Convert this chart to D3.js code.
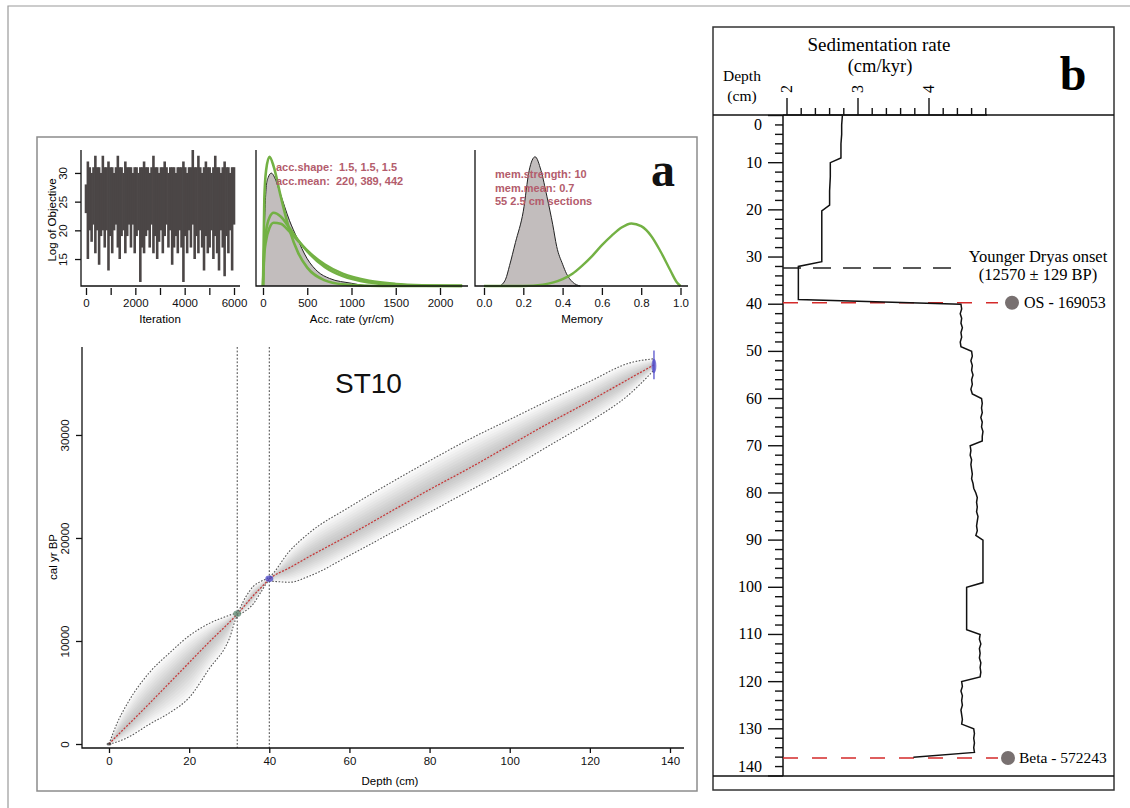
<!DOCTYPE html>
<html>
<head>
<meta charset="utf-8">
<script src="https://cdn.jsdelivr.net/npm/d3@7"></script>
<style>
  body { margin: 0; background: #fff; }
  svg { display: block; }
  .sans { font-family: "Liberation Sans", Arial, sans-serif; }
  .serif { font-family: "Liberation Serif", "Times New Roman", serif; }
</style>
</head>
<body>
<svg id="fig" width="1130" height="808"></svg>
<script>
// ---------- data ----------

// MCMC trace (log of objective), low / high per column, 0..6000 iterations
const traceLo = [23,15,20,18,21,16,20,14,19,20,17,20,13,19,16,20,21,17,15,19,20,16,19,21,17,21,16,19,20,11,17,16,19,20,17,21,16,19,15,18,
                 20,16,19,21,17,20,14,17,19,16,20,17,11,19,16,20,17,21,15,19,16,20,17,13,19,16,17,20,15,19,16,13,20,17,12,19,16,20,13,21];
const traceHi = [28,32,31,30,31,33,31,31,30,33,31,31,32,31,31,30,31,33,31,31,30,32,31,31,31,30,31,31,30,31,31,32,31,31,30,31,33,31,31,30,
                 31,31,32,31,30,31,31,31,30,31,31,31,32,31,30,31,31,34,31,31,33,31,30,31,32,31,31,30,31,33,31,31,30,31,32,31,31,30,31,31];
const traceTicks = [0, 1000, 2000, 3000, 4000, 5000, 6000];

// accumulation rate: prior curves (green) and posterior (grey)
const accX      = [0, 15, 35, 73, 120, 200, 300, 400, 500, 700, 900, 1200, 1500, 1800, 2250];
const accPrior1 = [0, .64, .85, .95, .88, .66, .41, .24, .135, .041, .012, .002, 0, 0, 0];
const accPrior2 = [0, .286, .404, .504, .539, .511, .426, .334, .254, .139, .073, .026, .009, .003, .001];
const accPrior3 = [0, .235, .335, .426, .465, .458, .400, .329, .261, .157, .090, .038, .015, .006, .002];
const accPostX  = [0, 10, 25, 40, 60, 94, 130, 190, 300, 380, 500, 620, 750, 1000, 1130, 1200];
const accPost   = [0, .3, .6, .75, .8, .83, .8, .69, .48, .36, .2, .105, .056, .02, .005, 0];
const accTicks  = [0, 500, 1000, 1500, 2000];

// memory: posterior (grey) and prior (green)
const memPostX  = [0.08, 0.11, 0.13, 0.16, 0.20, 0.23, 0.26, 0.29, 0.32, 0.35, 0.37, 0.40, 0.42, 0.45, 0.49];
const memPost   = [0, .05, .15, .32, .55, .85, .95, .85, .66, .45, .29, .16, .09, .03, 0];
const memPriorX = [0, .2, .3, .4, .45, .5, .55, .6, .65, .7, .75, .8, .85, .9, .95, .98, 1];
const memPrior  = [0, 0, .01, .05, .09, .15, .22, .30, .37, .43, .46, .44, .37, .25, .11, .03, 0];
const memTicks  = [0, 0.2, 0.4, 0.6, 0.8, 1.0];

// age-depth model ST10
const modelDepth = [0, 2, 5, 10, 15, 20, 25, 30, 32, 34, 36, 38, 40, 45, 50, 60, 70, 80, 90, 100, 110, 120, 130, 136];
const modelMean  = [0, 800, 1950, 3900, 5900, 7900, 9900, 11800, 12600, 13500, 14400, 15200, 16000, 17100, 18200, 20300, 22500, 24700, 26800, 29000, 31200, 33300, 35500, 36800];
const modelMax   = [0, 2000, 4200, 6900, 8800, 10500, 11700, 12500, 12800, 14200, 15300, 15800, 16200, 18700, 20500, 23000, 25300, 27500, 29600, 31500, 33400, 35200, 37000, 37400];
const modelMin   = [0, 200, 700, 1900, 3000, 4500, 7300, 10200, 12400, 12900, 13600, 14800, 15800, 15700, 16300, 18300, 20400, 22500, 24600, 26700, 29000, 31300, 34000, 36300];
const hiatusDepths = [32, 40];
const dateDepth = [0, 32, 40, 136];
const dateAge   = [0, 12650, 16050, 36700];
const dateErr   = [150, 300, 300, 700];
const dateColor = ['#333333', '#5f8a72', '#4a45c8', '#5550c8'];
const modelXTicks = [0, 20, 40, 60, 80, 100, 120, 140];
const modelYTicks = [0, 10000, 20000, 30000];

// sedimentation rate profile (panel b)
const sedDepth = [0, 2, 4, 6, 9, 10, 13, 16, 19, 20.2, 25, 31, 32, 39, 40,
  41, 42, 43, 44, 45, 46, 47, 48, 49, 50, 51, 52, 53, 54, 55, 56, 57, 58, 59,
  60, 61, 62, 63, 64, 65, 66, 67, 68, 69, 70, 71, 72, 73, 74, 75, 76, 77, 78, 79,
  80, 81, 82, 83, 84, 85, 86, 87, 88, 89, 90, 99, 100, 109,
  110, 111, 112, 113, 114, 115, 116, 117, 118, 119,
  120, 121, 122, 123, 124, 125, 126, 127, 128, 129,
  130, 131, 132, 133, 134, 135, 136];
const sedRate = [2.78, 2.77, 2.77, 2.76, 2.76, 2.61, 2.61, 2.60, 2.60, 2.49, 2.49, 2.49, 2.16, 2.16, 4.45,
  4.46, 4.44, 4.46, 4.45, 4.47, 4.45, 4.46, 4.44, 4.45, 4.60, 4.61, 4.59, 4.61, 4.60, 4.62, 4.60, 4.61, 4.59, 4.61,
  4.74, 4.75, 4.74, 4.75, 4.73, 4.75, 4.74, 4.76, 4.75, 4.75, 4.58, 4.59, 4.58, 4.60, 4.59, 4.60, 4.61, 4.60, 4.62, 4.63,
  4.66, 4.68, 4.67, 4.68, 4.67, 4.69, 4.68, 4.67, 4.68, 4.66, 4.76, 4.76, 4.53, 4.53,
  4.72, 4.71, 4.73, 4.71, 4.72, 4.71, 4.73, 4.72, 4.73, 4.72,
  4.46, 4.47, 4.45, 4.47, 4.46, 4.47, 4.45, 4.46, 4.47, 4.46,
  4.63, 4.64, 4.63, 4.64, 4.63, 4.64, 3.78];
const rateTicks = [2, 3, 4];
const depthTicks = [0, 10, 20, 30, 40, 50, 60, 70, 80, 90, 100, 110, 120, 130, 140];
const ydDepth = 32.3;
const ydLabels = ['Younger Dryas onset', '(12570 \u00b1 129 BP)'];
const dateLabels = ['OS - 169053', 'Beta - 572243'];
const dateLabelDepth = [39.7, 136.2];

// ---------- drawing ----------
const svg = d3.select('#fig');
svg.append('rect').attr('width', 1130).attr('height', 808).attr('fill', '#fff');

// outer frame (top + left edges visible)
svg.append('path').attr('d', 'M8,808 V6 H1130').attr('fill', 'none').attr('stroke', '#9a9a9a').attr('stroke-width', 1.2);

const green = '#73b144';
const rose = '#b35c6c';
const fmt = d3.format('d');

// small helper: L shaped box used by R plots
function lbox(g, x0, x1, y0, y1) {
  g.append('path')
    .attr('d', `M${x0},${y0} V${y1} H${x1}`)
    .attr('fill', 'none').attr('stroke', '#111').attr('stroke-width', 1.3);
}

// restyle a d3 axis group
function styleAxis(ax, size) {
  ax.attr('font-family', null).attr('font-size', size);
  ax.select('.domain').remove();
  ax.selectAll('line').attr('stroke', '#111').attr('stroke-width', 1.3);
  ax.selectAll('text').attr('fill', '#111');
}

// ===== panel a =====
const pa = svg.append('g').attr('class', 'sans');
pa.append('rect').attr('x', 37).attr('y', 137).attr('width', 660).attr('height', 654)
  .attr('fill', 'none').attr('stroke', '#8c8c8c').attr('stroke-width', 1.5);

// --- trace plot ---
const xT = d3.scaleLinear().domain([0, 6000]).range([86, 234]);
const yT = d3.scaleLinear().domain([10.3, 34]).range([286, 150]);
const stepT = 6000 / (traceHi.length - 1);

pa.append('g').selectAll('line')
  .data(traceHi)
  .enter()
  .append('line')
  .attr('x1', (d, i) => xT(i * stepT))
  .attr('x2', (d, i) => xT(i * stepT))
  .attr('y1', (d, i) => yT(traceLo[i]))
  .attr('y2', d => yT(d))
  .attr('stroke', '#4b4646')
  .attr('stroke-width', 2.6);

lbox(pa, 81, 240, 150, 286);
let ax = pa.append('g').attr('transform', 'translate(0,288)')
  .call(d3.axisBottom(xT).tickValues(traceTicks).tickSize(7).tickPadding(4)
    .tickFormat(d => d % 2000 === 0 ? fmt(d) : ''));
styleAxis(ax, 11.5);
ax = pa.append('g').attr('transform', 'translate(81,0)')
  .call(d3.axisLeft(yT).tickValues([15, 20, 25, 30]).tickSize(6));
styleAxis(ax, 11.5);
ax.selectAll('text').attr('transform', 'rotate(-90)').attr('x', 0).attr('y', -14).attr('dy', 0)
  .attr('text-anchor', 'middle');
pa.append('text').attr('transform', 'translate(56,220) rotate(-90)').attr('text-anchor', 'middle')
  .attr('font-size', 11.5).text('Log of Objective');
pa.append('text').attr('x', 160).attr('y', 323).attr('text-anchor', 'middle').attr('font-size', 11.5).text('Iteration');

// --- accumulation rate plot ---
const xA = d3.scaleLinear().domain([0, 2000]).range([263, 440]);
const yA = d3.scaleLinear().domain([0, 1]).range([286, 150]);

const postArea = d3.area().x((d, i) => xA(accPostX[i])).y0(yA(0)).y1(d => yA(d)).curve(d3.curveMonotoneX);
pa.append('path').datum(accPost).attr('d', postArea).attr('fill', '#c2bdbd');
pa.append('path').datum(accPost)
  .attr('d', d3.line().x((d, i) => xA(accPostX[i])).y(d => yA(d)).curve(d3.curveMonotoneX))
  .attr('fill', 'none').attr('stroke', '#222').attr('stroke-width', 1);

const accLine = d3.line().x((d, i) => xA(accX[i])).y(d => yA(d)).curve(d3.curveMonotoneX);
[accPrior3, accPrior2, accPrior1].forEach(p => {
  pa.append('path').datum(p).attr('d', accLine)
    .attr('fill', 'none').attr('stroke', green).attr('stroke-width', 2.6);
});

lbox(pa, 256, 468, 150, 286);
ax = pa.append('g').attr('transform', 'translate(0,288)')
  .call(d3.axisBottom(xA).tickValues(accTicks).tickSize(7).tickPadding(4).tickFormat(fmt));
styleAxis(ax, 11.5);
pa.append('text').attr('x', 352).attr('y', 323).attr('text-anchor', 'middle').attr('font-size', 11.5).text('Acc. rate (yr/cm)');
pa.append('text').attr('x', 276).attr('y', 171).attr('font-size', 11).attr('font-weight', 'bold')
  .attr('fill', rose).attr('xml:space', 'preserve').text('acc.shape:  1.5, 1.5, 1.5');
pa.append('text').attr('x', 276).attr('y', 185).attr('font-size', 11).attr('font-weight', 'bold')
  .attr('fill', rose).attr('xml:space', 'preserve').text('acc.mean:  220, 389, 442');

// --- memory plot ---
const xMem = d3.scaleLinear().domain([0, 1]).range([484, 680.5]);
const yMem = d3.scaleLinear().domain([0, 1]).range([286, 150]);

pa.append('path').datum(memPost)
  .attr('d', d3.area().x((d, i) => xMem(memPostX[i])).y0(yMem(0)).y1(d => yMem(d)).curve(d3.curveMonotoneX))
  .attr('fill', '#c2bdbd').attr('stroke', '#222').attr('stroke-width', 1);
pa.append('path').datum(memPrior)
  .attr('d', d3.line().x((d, i) => xMem(memPriorX[i])).y(d => yMem(d)).curve(d3.curveMonotoneX))
  .attr('fill', 'none').attr('stroke', green).attr('stroke-width', 2.4);

lbox(pa, 475, 688, 150, 286);
ax = pa.append('g').attr('transform', 'translate(0,288)')
  .call(d3.axisBottom(xMem).tickValues(memTicks).tickSize(7).tickPadding(4).tickFormat(d3.format('.1f')));
styleAxis(ax, 11.5);
pa.append('text').attr('x', 582).attr('y', 323).attr('text-anchor', 'middle').attr('font-size', 11.5).text('Memory');
['mem.strength: 10', 'mem.mean: 0.7', '55 2.5 cm sections'].forEach((t, i) => {
  pa.append('text').attr('x', 495).attr('y', 178 + i * 13.5).attr('font-size', 11)
    .attr('font-weight', 'bold').attr('fill', rose).text(t);
});

pa.append('text').attr('class', 'serif').attr('x', 651).attr('y', 186)
  .attr('font-size', 48).attr('font-weight', 'bold').attr('fill', '#111').text('a');

// --- age-depth model ---
const xM = d3.scaleLinear().domain([0, 140]).range([109, 670]);
const yM = d3.scaleLinear().domain([0, 38540]).range([744, 347]);
const model = modelDepth.map((d, i) => ({ depth: d, mean: modelMean[i], hi: modelMax[i], lo: modelMin[i] }));

// grey gradient made from stacked translucent bands
const layers = d3.range(1, 0, -0.1);
layers.forEach(f => {
  const band = d3.area()
    .x(d => xM(d.depth))
    .y0(d => yM(d.mean - f * (d.mean - d.lo)))
    .y1(d => yM(d.mean + f * (d.hi - d.mean)))
    .curve(d3.curveMonotoneX);
  pa.append('path').datum(model).attr('d', band).attr('fill', '#000').attr('fill-opacity', 0.024);
});

// dotted confidence limits
['hi', 'lo'].forEach(k => {
  pa.append('path').datum(model)
    .attr('d', d3.line().x(d => xM(d.depth)).y(d => yM(d[k])).curve(d3.curveMonotoneX))
    .attr('fill', 'none').attr('stroke', '#555').attr('stroke-width', 1.1).attr('stroke-dasharray', '1.6,1.6');
});
// mean age
pa.append('path').datum(model)
  .attr('d', d3.line().x(d => xM(d.depth)).y(d => yM(d.mean)).curve(d3.curveMonotoneX))
  .attr('fill', 'none').attr('stroke', '#c83232').attr('stroke-width', 1.2).attr('stroke-dasharray', '2,1.5');

// hiatus / boundary lines
pa.selectAll('.hiatus')
  .data(hiatusDepths)
  .enter()
  .append('line')
  .attr('x1', d => xM(d)).attr('x2', d => xM(d))
  .attr('y1', 347).attr('y2', 748)
  .attr('stroke', '#444').attr('stroke-width', 1).attr('stroke-dasharray', '1.8,1.8');

// calibrated dates
pa.selectAll('.date')
  .data(dateDepth)
  .enter()
  .append('ellipse')
  .attr('cx', d => xM(d))
  .attr('cy', (d, i) => yM(dateAge[i]))
  .attr('rx', (d, i) => i === 0 ? 2.5 : i === 3 ? 2.4 : 4)
  .attr('ry', (d, i) => yM(0) - yM(dateErr[i]))
  .attr('fill', (d, i) => dateColor[i])
  .attr('fill-opacity', 0.75);
// thin stem through the oldest date
pa.append('line')
  .attr('x1', xM(136)).attr('x2', xM(136))
  .attr('y1', yM(dateAge[3] + 1500)).attr('y2', yM(dateAge[3] - 1300))
  .attr('stroke', '#4a45c8').attr('stroke-width', 1.2);

lbox(pa, 82, 684, 347, 748);
ax = pa.append('g').attr('transform', 'translate(0,748)')
  .call(d3.axisBottom(xM).tickValues(modelXTicks).tickSize(5).tickPadding(4));
styleAxis(ax, 11.5);
ax = pa.append('g').attr('transform', 'translate(82,0)')
  .call(d3.axisLeft(yM).tickValues(modelYTicks).tickSize(6).tickFormat(fmt));
styleAxis(ax, 11.5);
ax.selectAll('text').attr('transform', 'rotate(-90)').attr('x', 0).attr('y', -13).attr('dy', 0)
  .attr('text-anchor', 'middle');
pa.append('text').attr('transform', 'translate(57,557) rotate(-90)').attr('text-anchor', 'middle')
  .attr('font-size', 11.5).text('cal yr BP');
pa.append('text').attr('x', 390).attr('y', 785).attr('text-anchor', 'middle').attr('font-size', 11.5).text('Depth (cm)');
pa.append('text').attr('x', 335).attr('y', 393).attr('font-size', 28).attr('fill', '#111').text('ST10');

// ===== panel b =====
const pb = svg.append('g').attr('class', 'serif');
pb.append('rect').attr('x', 713).attr('y', 27).attr('width', 401).attr('height', 763)
  .attr('fill', 'none').attr('stroke', '#333').attr('stroke-width', 1.5);
pb.append('line').attr('x1', 713).attr('x2', 1114).attr('y1', 115).attr('y2', 115).attr('stroke', '#111').attr('stroke-width', 1.5);
pb.append('line').attr('x1', 713).attr('x2', 1114).attr('y1', 776).attr('y2', 776).attr('stroke', '#111').attr('stroke-width', 1.5);

const xR = d3.scaleLinear().domain([2, 4.8]).range([787, 985.8]);
const yD = d3.scaleLinear().domain([0, 140]).range([115.5, 776]);

// top rate axis
pb.append('line').attr('x1', 783).attr('x2', 987).attr('y1', 115).attr('y2', 115).attr('stroke', '#111').attr('stroke-width', 1.5);
pb.selectAll('.rtick')
  .data(d3.range(0, 15))
  .enter()
  .append('line')
  .attr('x1', d => xR(2 + d * 0.2)).attr('x2', d => xR(2 + d * 0.2))
  .attr('y1', 115)
  .attr('y2', d => d % 5 === 0 ? 98 : 108)
  .attr('stroke', '#111').attr('stroke-width', 1.4);
pb.selectAll('.rlab')
  .data(rateTicks)
  .enter()
  .append('text')
  .attr('transform', d => `translate(${xR(d) + 5},89) rotate(-90)`)
  .attr('text-anchor', 'middle')
  .attr('font-size', 16)
  .text(d => d);

// depth axis
pb.append('line').attr('x1', 783).attr('x2', 783).attr('y1', 115).attr('y2', 776).attr('stroke', '#111').attr('stroke-width', 1.5);
pb.selectAll('.dtick')
  .data(d3.range(0, 141, 2))
  .enter()
  .append('line')
  .attr('x1', d => d % 10 === 0 ? 768 : 775).attr('x2', 783)
  .attr('y1', d => yD(d)).attr('y2', d => yD(d))
  .attr('stroke', '#111').attr('stroke-width', 1.4);
pb.selectAll('.dlab')
  .data(depthTicks)
  .enter()
  .append('text')
  .attr('x', 762)
  .attr('y', d => yD(d) + 5 + (d === 0 ? 9 : d === 140 ? -9 : 0))
  .attr('text-anchor', 'end')
  .attr('font-size', 16)
  .text(d => d);

// header text
pb.append('text').attr('x', 879).attr('y', 51).attr('text-anchor', 'middle').attr('font-size', 19).text('Sedimentation rate');
pb.append('text').attr('x', 880).attr('y', 72).attr('text-anchor', 'middle').attr('font-size', 18.5).text('(cm/kyr)');
pb.append('text').attr('x', 742).attr('y', 81).attr('text-anchor', 'middle').attr('font-size', 15.5).text('Depth');
pb.append('text').attr('x', 742).attr('y', 101).attr('text-anchor', 'middle').attr('font-size', 15.5).text('(cm)');
pb.append('text').attr('x', 1073).attr('y', 90).attr('text-anchor', 'middle').attr('font-size', 48)
  .attr('font-weight', 'bold').text('b');

// dashed markers
pb.append('line').attr('x1', 783).attr('x2', 956).attr('y1', yD(ydDepth)).attr('y2', yD(ydDepth))
  .attr('stroke', '#222').attr('stroke-width', 1.5).attr('stroke-dasharray', '18,12');
pb.selectAll('.rdash')
  .data(dateLabelDepth)
  .enter()
  .append('line')
  .attr('x1', 783).attr('x2', 998)
  .attr('y1', d => yD(d)).attr('y2', d => yD(d))
  .attr('stroke', '#d42a2a').attr('stroke-width', 1.5).attr('stroke-dasharray', '15,14');

// profile
pb.append('path').datum(sedRate)
  .attr('d', d3.line().x(d => xR(d)).y((d, i) => yD(sedDepth[i])))
  .attr('fill', 'none').attr('stroke', '#111').attr('stroke-width', 1.5);

// date circles and labels
pb.selectAll('.dot')
  .data(dateLabelDepth)
  .enter()
  .append('circle')
  .attr('cx', (d, i) => i === 0 ? 1012 : 1008)
  .attr('cy', d => yD(d))
  .attr('r', 7)
  .attr('fill', '#787070');
pb.selectAll('.dlabel')
  .data(dateLabels)
  .enter()
  .append('text')
  .attr('x', (d, i) => i === 0 ? 1024 : 1019)
  .attr('y', (d, i) => yD(dateLabelDepth[i]) + 5)
  .attr('font-size', (d, i) => i === 0 ? 16 : 15.5)
  .text(d => d);
ydLabels.forEach((t, i) => {
  pb.append('text').attr('x', 1038).attr('y', 262 + i * 18).attr('text-anchor', 'middle')
    .attr('font-size', 16.5).text(t);
});
</script>
</body>
</html>
